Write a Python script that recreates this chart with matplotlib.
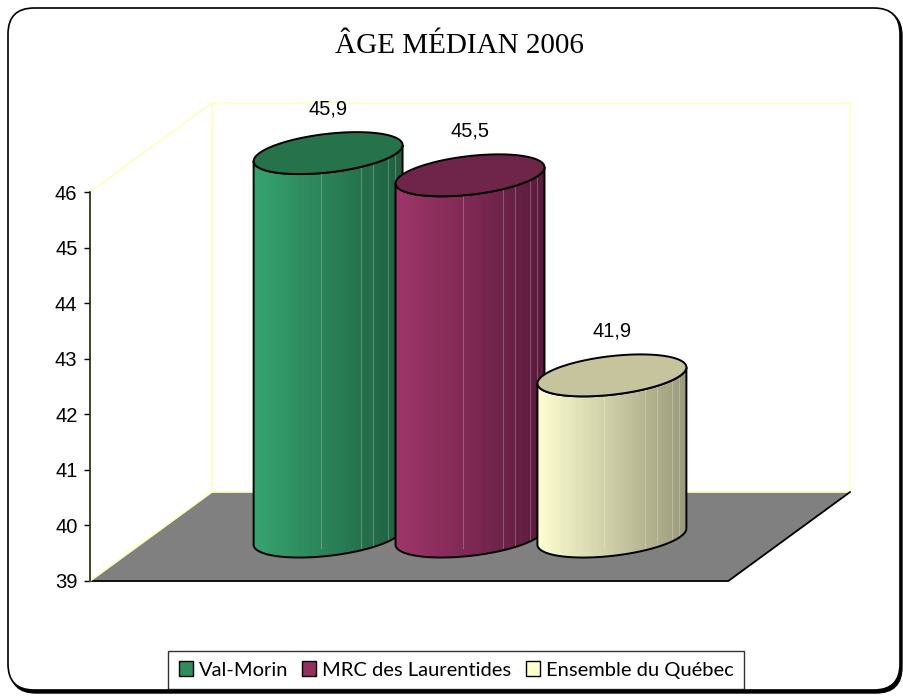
import numpy as np
import matplotlib
matplotlib.use('Agg')
import matplotlib.pyplot as plt
from matplotlib.patches import Polygon, Patch, FancyBboxPatch
from matplotlib.colors import LinearSegmentedColormap


# data
series = ['Val-Morin', 'MRC des Laurentides', 'Ensemble du Québec']
values = [45.9, 45.5, 41.9]
value_labels = ['45,9', '45,5', '41,9']
y_ticks = [39, 40, 41, 42, 43, 44, 45, 46]

# colours: light side, dark side, top
light_cols = ['#37a470', '#a0366a', '#ffffd2']
dark_cols = ['#1f5f40', '#5a1c3c', '#9a9a7a']
top_cols = ['#25724b', '#6f2549', '#c6c49c']
legend_cols = ['#2f8c5c', '#933060', '#ffffcc']

Y_MIN, Y_MAX = 39, 46
DX, DY = 0.572, 1.60      # depth offset (x units, value units)
R, RZ = 0.323, 0.236      # cylinder radius (x units) and depth radius (depth fraction)
FDEPTH = 0.5              # cylinders stand in middle of the depth


def proj(xc, y, t):
	xs = xc + FDEPTH*DX + R*np.cos(t) + RZ*np.sin(t)*DX
	ys = y + FDEPTH*DY + RZ*np.sin(t)*DY
	return xs, ys


def draw_cylinder(ax, xc, value, c_light, c_dark, c_top, z):

	t0 = np.arctan2(RZ*DX, R)
	tb = np.linspace(t0-np.pi, t0, 80)
	bx, by = proj(xc, Y_MIN, tb)
	tx, ty = proj(xc, value, tb[::-1])
	body_x = np.concatenate([bx, tx])
	body_y = np.concatenate([by, ty])
	body = Polygon(np.column_stack([body_x, body_y]), closed=True, facecolor='none',
		edgecolor='none', clip_on=False, zorder=z)
	ax.add_patch(body)

	cmap = LinearSegmentedColormap.from_list('c', [c_light, c_dark])
	grad = np.linspace(0, 1, 256)[None, :]
	im = ax.imshow(grad, cmap=cmap, aspect='auto', interpolation='bilinear',
		extent=[body_x.min(), body_x.max(), body_y.min(), body_y.max()],
		zorder=z, clip_on=True)
	im.set_clip_path(body)

	# a few faint stripes like the original
	for frac in [0.45, 0.72, 0.8, 0.9, 0.95]:
		xx = body_x.min() + frac*(body_x.max()-body_x.min())
		ln = ax.plot([xx, xx], [Y_MIN+FDEPTH*DY-0.2, value+FDEPTH*DY], color='white', alpha=0.25,
			lw=0.7, zorder=z+0.1)[0]
		ln.set_clip_path(body)

	outline = Polygon(np.column_stack([body_x, body_y]), closed=True, facecolor='none',
		edgecolor='black', lw=1.4, clip_on=False, zorder=z+0.2)
	ax.add_patch(outline)

	ta = np.linspace(0, 2*np.pi, 120)
	ex, ey = proj(xc, value, ta)
	top = Polygon(np.column_stack([ex, ey]), closed=True, facecolor=c_top,
		edgecolor='black', lw=1.4, clip_on=False, zorder=z+0.3)
	ax.add_patch(top)


fig = plt.figure(figsize=(9.04, 6.96), dpi=100)
W, H = 904.0, 696.0

# rounded chart frame with shadow, drawn in a pixel-unit background axes
bg = fig.add_axes([0, 0, 1, 1], zorder=-5)
bg.set_xlim(0, W)
bg.set_ylim(H, 0)
bg.axis('off')
bg.add_patch(FancyBboxPatch((10, 10), 892, 683, boxstyle='round,pad=0,rounding_size=26',
	facecolor='black', edgecolor='black', lw=1))
bg.add_patch(FancyBboxPatch((8, 8), 892, 682, boxstyle='round,pad=0,rounding_size=26',
	facecolor='white', edgecolor='black', lw=1.2))

px_per_y = 389/7.0
ax_top_px = 581 - (Y_MAX+DY-Y_MIN)*px_per_y
ax = fig.add_axes([90/W, (H-581)/H, 760/W, (581-ax_top_px)/H])
ax.set_xlim(0, 3+DX)
ax.set_ylim(Y_MIN, Y_MAX+DY)
ax.patch.set_visible(False)

wall_col = '#ffffc0'
left_wall = Polygon([(0, Y_MIN), (DX, Y_MIN+DY), (DX, Y_MAX+DY), (0, Y_MAX)], closed=True,
	facecolor='white', edgecolor=wall_col, lw=1.2, clip_on=False, zorder=1)
back_wall = Polygon([(DX, Y_MIN+DY), (3+DX, Y_MIN+DY), (3+DX, Y_MAX+DY), (DX, Y_MAX+DY)], closed=True,
	facecolor='white', edgecolor=wall_col, lw=1.2, clip_on=False, zorder=1)
floor = Polygon([(0, Y_MIN), (3, Y_MIN), (3+DX, Y_MIN+DY), (DX, Y_MIN+DY)], closed=True,
	facecolor='#808080', edgecolor='none', clip_on=False, zorder=2)
for p in [left_wall, back_wall, floor]:
	ax.add_patch(p)
ax.plot([DX, 3+DX], [Y_MIN+DY, Y_MIN+DY], color=wall_col, lw=1.2, clip_on=False, zorder=2.4)
ax.plot([0, 3, 3+DX], [Y_MIN, Y_MIN, Y_MIN+DY], color='black', lw=1.3,
	clip_on=False, zorder=2.5)
ax.plot([0, DX], [Y_MIN, Y_MIN+DY], color=wall_col, lw=1.3, clip_on=False, zorder=2.6)

xpos = 1.5 + (np.arange(len(values))-1)*0.667
for i in range(len(values)):
	draw_cylinder(ax, xpos[i], values[i], light_cols[i], dark_cols[i], top_cols[i], 3+i)
	ax.annotate(value_labels[i], (xpos[i]+FDEPTH*DX, values[i]+FDEPTH*DY), xytext=(0, 32),
		textcoords='offset points', ha='center', va='center', fontsize=14.5,
		family='Liberation Sans', zorder=10, annotation_clip=False)

for s in ['top', 'right', 'bottom']:
	ax.spines[s].set_visible(False)
ax.spines['left'].set_bounds(Y_MIN, Y_MAX)
ax.spines['left'].set_color('#222211')
ax.spines['left'].set_linewidth(1.2)
ax.spines['left'].set_zorder(2.7)
ax.set_yticks(y_ticks)
ax.set_yticklabels([str(v) for v in y_ticks], family='Liberation Sans', fontsize=14.5)
ax.tick_params(axis='y', direction='out', length=4, width=1, pad=5, colors='black')
ax.set_xticks([])

fig.text(459/W, 1-46/H, 'ÂGE MÉDIAN 2006', ha='center', va='center', fontsize=21,
	family='Liberation Serif')

handles = [Patch(facecolor=legend_cols[i], edgecolor='black', lw=1) for i in range(len(series))]
leg = fig.legend(handles, series, loc='center', bbox_to_anchor=(456/W, 1-670/H), ncol=3,
	frameon=True, fancybox=False, handlelength=0.7, handleheight=0.7,
	handletextpad=0.3, columnspacing=0.7, borderpad=0.5, borderaxespad=0,
	prop={'family': 'Lato', 'size': 14.5})
leg.get_frame().set_edgecolor('black')
leg.get_frame().set_linewidth(1)

plt.savefig('out.png', dpi=100)
